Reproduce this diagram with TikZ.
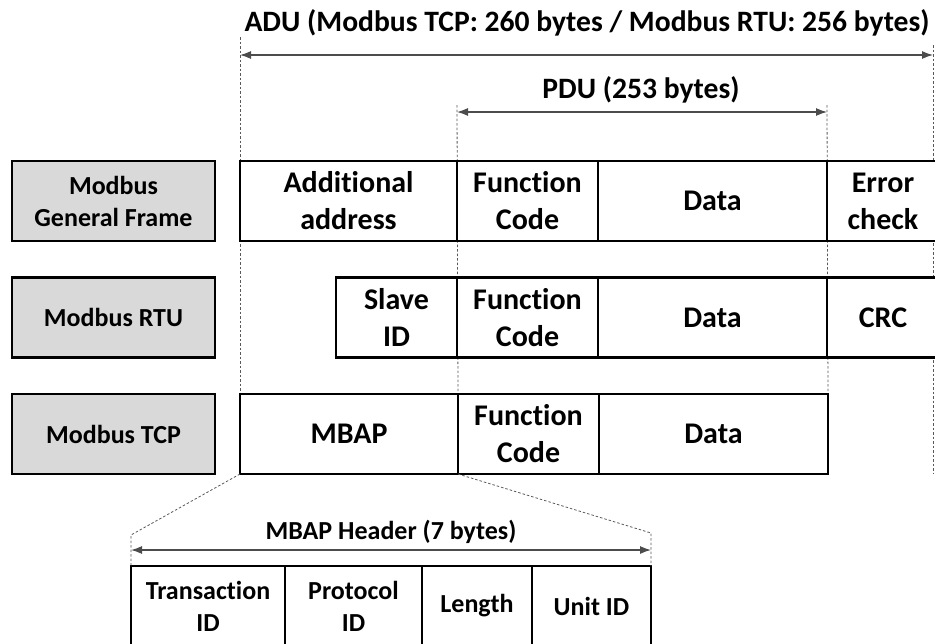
\documentclass[tikz,border=0pt]{standalone}
\usepackage{fontspec}
\setmainfont{Carlito}[Ligatures={NoCommon}]
\usetikzlibrary{arrows.meta,positioning,backgrounds}

\begin{document}
\begin{tikzpicture}[
  x=1pt, y=-1pt,
  font=\bfseries\fontsize{29.6}{36}\selectfont,
  cell/.style={draw, line width=2.2pt, fill=white, outer sep=0pt, inner sep=0pt, align=center, minimum height=80pt, font=\bfseries\fontsize{30}{37}\selectfont},
  tag/.style={cell, fill=black!15, minimum width=203pt, font=\bfseries\fontsize{26}{32}\selectfont},
  hcell/.style={cell, minimum height=80pt, font=\bfseries\fontsize{26}{32}\selectfont},
  dim/.style={{Latex[length=11pt,width=8pt]}-{Latex[length=11pt,width=8pt]}, line width=1.2pt, draw=black!70},
  guide/.style={dash pattern=on 2.5pt off 2pt, line width=0.8pt, draw=black!65}
]
\useasboundingbox (0,0) rectangle (935,643);
\clip (0,0) rectangle (935,643);

% row labels
\node[tag, anchor=north west] (gen) at (12,161) {Modbus\\General Frame};
\node[tag, anchor=north west] (rtu) at (12,277.5) {Modbus RTU};
\node[tag, anchor=north west] (tcp) at (12,394) {Modbus TCP};

% general frame
\node[cell, minimum width=217pt, anchor=north west] (addr) at (240,161) {Additional\\address};
\node[cell, minimum width=141pt, right=0pt of addr] (gfc) {Function\\Code};
\node[cell, minimum width=229pt, right=0pt of gfc] (gdata) {Data};
\node[cell, minimum width=112pt, right=0pt of gdata] (err) {Error\\check};

% rtu frame
\node[cell, minimum width=121pt, anchor=north west] (slave) at (336,277.5) {Slave\\ID};
\node[cell, minimum width=141pt, right=0pt of slave] (rfc) {Function\\Code};
\node[cell, minimum width=229pt, right=0pt of rfc] (rdata) {Data};
\node[cell, minimum width=112pt, right=0pt of rdata] (crc) {CRC};

% tcp frame
\node[cell, minimum width=218pt, anchor=north west] (mbap) at (240,394) {MBAP};
\node[cell, minimum width=141pt, right=0pt of mbap] (tfc) {Function\\Code};
\node[cell, minimum width=229pt, right=0pt of tfc] (tdata) {Data};

% mbap header
\node[hcell, minimum width=154pt, anchor=north west] (trans) at (131,566) {Transaction\\ID};
\node[hcell, minimum width=137pt, right=0pt of trans] (proto) {Protocol\\ID};
\node[hcell, minimum width=110pt, right=0pt of proto] (len) {Length};
\node[hcell, minimum width=119pt, right=0pt of len] (unit) {Unit ID};

% sizes
\node (adu) at (587,23) {ADU (Modbus TCP: 260 bytes / Modbus RTU: 256 bytes)};
\node (pdu) at (641,90) {PDU (253 bytes)};
\node[font=\bfseries\fontsize{26}{32}\selectfont] (mbaph) at (391,532) {MBAP Header (7 bytes)};

\coordinate (adul) at (240,55);
\coordinate (adur) at (933,55);
\coordinate (pdul) at (457,112);
\coordinate (pdur) at (827,112);
\coordinate (hdrl) at (131,550);
\coordinate (hdrr) at (651,550);
\draw[dim] (adul) -- (adur);
\draw[dim] (pdul) -- (pdur);
\draw[dim] (hdrl) -- (hdrr);

\begin{scope}[on background layer]
\draw[guide] (240,37) -- (mbap.north west);
\draw[guide] (457,105) -- (tfc.north west);
\draw[guide] (827,105) -- (tdata.north east);
\draw[guide] (933,45) -- (933,474);
\end{scope}
\draw[guide] (mbap.south west) -- (131,535) -- (trans.north west);
\draw[guide] (tfc.south west) -- (651,533) -- (unit.north east);
\end{tikzpicture}
\end{document}
